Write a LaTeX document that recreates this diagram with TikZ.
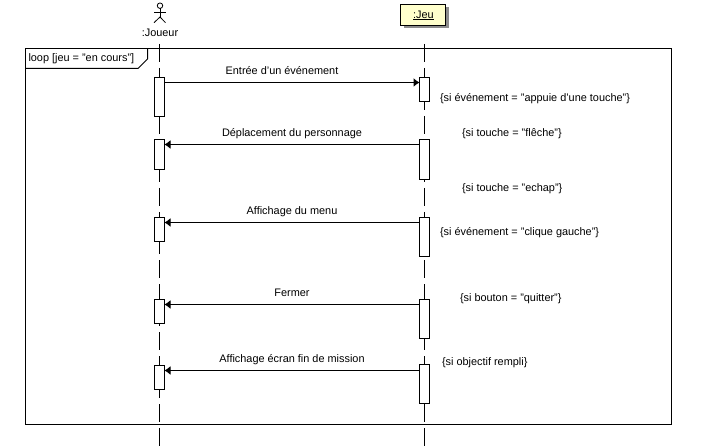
\documentclass[tikz,border=0pt]{standalone}
\usepackage{fontspec}
\setmainfont{Liberation Sans}
\usetikzlibrary{arrows.meta, positioning, calc}

\definecolor{headfill}{RGB}{255,255,204}
\definecolor{headshadow}{RGB}{140,140,140}

\begin{document}
\begin{tikzpicture}[
  x=1pt, y=-1pt,
  every node/.style = {font=\fontsize{10.9}{13}\selectfont, inner sep=0pt, outer sep=0pt},
  activation/.style = {draw, fill=white, line width=1pt, minimum width=10pt},
  lifeline/.style = {line width=1pt, dash pattern=on 18pt off 6pt on 42pt off 6pt},
  msg/.style = {line width=1pt, -{Latex[width=9pt,length=6pt]}},
  msglabel/.style = {midway, anchor=base, yshift=8pt},
  note/.style = {anchor=west}
]
  \useasboundingbox (0,0) rectangle (711,446);

  % Loop frame
  \node[draw, line width=1pt, anchor=north west, minimum width=646pt, minimum height=376pt] (loopframe) at (25.5,48.5) {};
  \node[anchor=west] (looplabel) at (28.5,58.5) {loop [jeu = "en cours"]};
  \draw[line width=1pt] (25.5,68.5) -- (138,68.5) -- (147.5,59) -- (147.5,48.5);

  % Actor
  \node[draw, circle, line width=0.8pt, minimum size=5.5pt] (actorhead) at (160,5.7) {};
  \coordinate (actorhip) at (160,17);
  \draw[line width=0.8pt] (actorhead) -- (actorhip);
  \draw[line width=0.8pt] (154,12.7) -- (165.5,12.7);
  \draw[line width=0.8pt] (154,22.7) -- (actorhip) -- (165.5,22.7);
  \node (joueur) at (160,32.5) {:Joueur};

  % Jeu head
  \fill[headshadow] (403.5,7.5) rectangle (449,28.5);
  \node[draw, fill=headfill, line width=1pt, minimum width=45pt, minimum height=21pt] (jeu) at (423,15) {};
  \node (jeulabel) at (423.5,15.5) {\underline{:Jeu}};

  % Lifelines
  \coordinate (joueurtop) at (159.5,44);
  \coordinate (joueurend) at (159.5,446);
  \coordinate (jeutop) at (424.5,44);
  \coordinate (jeuend) at (424.5,446);
  \draw[lifeline] (joueurtop) -- (joueurend);
  \draw[lifeline] (jeutop) -- (jeuend);

  % Activations
  \node[activation, minimum height=39pt] (joueura) at (159.5,97) {};
  \node[activation, minimum height=30pt] (joueurb) at (159.5,154.5) {};
  \node[activation, minimum height=24pt] (joueurc) at (159.5,229.5) {};
  \node[activation, minimum height=24pt] (joueurd) at (159.5,311.5) {};
  \node[activation, minimum height=24pt] (joueure) at (159.5,377.5) {};

  \node[activation, minimum height=24pt] (jeua) at (424.5,89.5) {};
  \node[activation, minimum height=40pt] (jeub) at (424.5,159.5) {};
  \node[activation, minimum height=39pt] (jeuc) at (424.5,237) {};
  \node[activation, minimum height=39pt] (jeud) at (424.5,319) {};
  \node[activation, minimum height=39pt] (jeue) at (424.5,384) {};

  % Messages
  \draw[msg] ([yshift=-5pt]joueura.north east) -- ([yshift=-5pt]jeua.north west)
    node[msglabel, xshift=-10pt] (msgevent) {Entrée d'un événement};
  \draw[msg] ([yshift=-5pt]jeub.north west) -- ([yshift=-5pt]joueurb.north east)
    node[msglabel] (msgmove) {Déplacement du personnage};
  \draw[msg] ([yshift=-5pt]jeuc.north west) -- ([yshift=-5pt]joueurc.north east)
    node[msglabel] (msgmenu) {Affichage du menu};
  \draw[msg] ([yshift=-5pt]jeud.north west) -- ([yshift=-5pt]joueurd.north east)
    node[msglabel] (msgclose) {Fermer};
  \draw[msg] ([yshift=-6pt]jeue.north west) -- ([yshift=-5pt]joueure.north east)
    node[msglabel] (msgend) {Affichage écran fin de mission};

  % Conditions
  \node[note] (condkey) at (440,98.5) {\{si événement = "appuie d'une touche"\}};
  \node[note] (condarrow) at (462,133.5) {\{si touche = "flêche"\}};
  \node[note] (condesc) at (462,188.5) {\{si touche = "echap"\}};
  \node[note] (condclick) at (440,232.5) {\{si événement = "clique gauche"\}};
  \node[note] (condquit) at (460,298.5) {\{si bouton = "quitter"\}};
  \node[note] (condgoal) at (442,362.5) {\{si objectif rempli\}};

\end{tikzpicture}
\end{document}
